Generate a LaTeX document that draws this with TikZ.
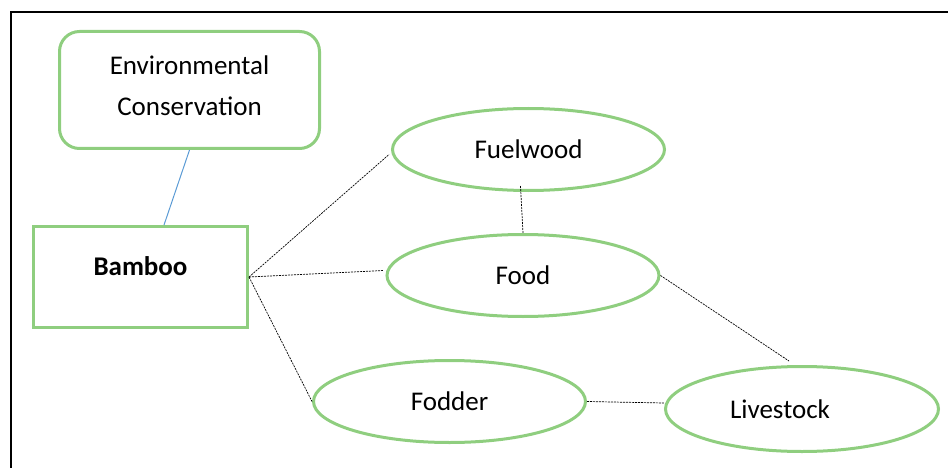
\documentclass[tikz,border=0pt]{standalone}
\usepackage{fontspec}
\setmainfont{Carlito}
\usetikzlibrary{shapes.geometric,calc}
\definecolor{boxgreen}{RGB}{143,206,127}
\definecolor{linkblue}{RGB}{91,155,213}
\begin{document}
\begin{tikzpicture}[x=1pt,y=-1pt,
  every node/.style={font=\fontsize{27}{41}\selectfont, inner sep=0pt},
  greenbox/.style={draw=boxgreen, line width=3pt, rectangle},
  greenoval/.style={draw=boxgreen, line width=3pt, ellipse, minimum width=272pt, minimum height=82pt},
  dotlink/.style={draw=black, line width=0.7pt, dash pattern=on 2pt off 1pt},
  bluelink/.style={draw=linkblue, line width=1pt}]
\useasboundingbox (0,0) rectangle (948,468);
\draw[line width=2pt] (10.5,468) -- (10.5,12) -- (948,12);
\node[greenbox, rounded corners=20pt, minimum width=260pt, minimum height=117pt, align=center, text height=54pt, text depth=2pt] (env) at (189.5,90) {Environmental\\Conservation};
\node[greenbox, minimum width=214pt, minimum height=101pt, font=\fontsize{27}{41}\selectfont\bfseries, text height=18pt, text depth=22pt] (bamboo) at (140.5,277) {Bamboo};
\node[greenoval] (fuelwood) at (528.5,149.5) {Fuelwood};
\node[greenoval] (food) at (523,275.5) {Food};
\node[greenoval] (fodder) at (449.5,401.5) {Fodder};
\node[greenoval, minimum width=273pt, minimum height=85pt] (livestock) at (802,409) {Livestock\hspace*{44pt}\rule{0pt}{0pt}};
\draw[bluelink] (env.south) -- ([xshift=23.5pt]bamboo.north);
\draw[dotlink] (bamboo.east) -- ([xshift=-2pt,yshift=-5pt]fuelwood.west);
\draw[dotlink] (bamboo.east) -- ([xshift=-2pt,yshift=5pt]food.west);
\draw[dotlink] (bamboo.east) -- (fodder.west);
\draw[dotlink] ([xshift=-8pt,yshift=6pt]fuelwood.south) -- (food.north);
\draw[dotlink] (food.east) -- ([xshift=-13pt,yshift=4pt]livestock.north);
\draw[dotlink] (fodder.east) -- ([yshift=6pt]livestock.west);
\end{tikzpicture}
\end{document}
